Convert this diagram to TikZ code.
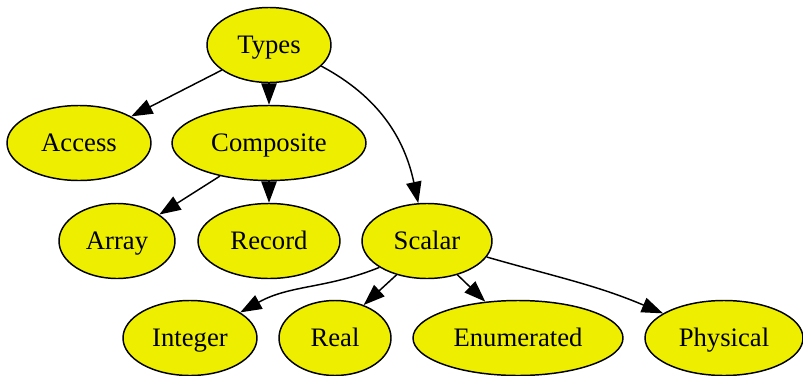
\documentclass[tikz,border=0pt]{standalone}
\usepackage{fontspec}
\setmainfont{Liberation Serif}
\usetikzlibrary{shapes.geometric,arrows.meta}
\definecolor{nodefill}{HTML}{EEEE00}
\begin{document}
\begin{tikzpicture}[x=0.75pt,y=-0.75pt,
  typenode/.style={ellipse,draw=black,line width=1.1pt,fill=nodefill,
    inner sep=0pt,minimum height=56.25pt,text height=13.3pt,text depth=0pt,
    font=\fontsize{20}{24}\selectfont},
  edge/.style={line width=1.1pt,-{Triangle[length=16pt,width=11.5pt]}}]
\useasboundingbox (0,0) rectangle (803,375);

% nodes
\node[typenode,minimum width=93pt]    (types)      at (269,45)  {Types};
\node[typenode,minimum width=108pt]   (access)     at (79,143)  {Access};
\node[typenode,minimum width=145.5pt] (composite)  at (269,143) {Composite};
\node[typenode,minimum width=87pt]    (array)      at (117,241) {Array};
\node[typenode,minimum width=106.5pt] (record)     at (269,241) {Record};
\node[typenode,minimum width=97.5pt]  (scalar)     at (427,241) {Scalar};
\node[typenode,minimum width=100.5pt] (integer)    at (190,338) {Integer};
\node[typenode,minimum width=84pt]    (real)       at (335,338) {Real};
\node[typenode,minimum width=157.5pt] (enumerated) at (518,338) {Enumerated};
\node[typenode,minimum width=118.5pt] (physical)   at (724,338) {Physical};

% edges
\draw[edge] (types.208) -- (access.27);
\draw[edge] (types.south) -- (composite.north);
\draw[edge] (types.-22) to[out=-28,in=102] (scalar.103);
\draw[edge] (composite.214) -- (array.32);
\draw[edge] (composite.south) -- (record.north);
\draw[edge] (scalar.209) to[out=202,in=29] (integer.27);
\draw[edge] (scalar.228) -- (real.49);
\draw[edge] (scalar.-48) -- (enumerated.132);
\draw[edge] (scalar.-15) to[out=-16,in=157] (physical.158);
\end{tikzpicture}
\end{document}
